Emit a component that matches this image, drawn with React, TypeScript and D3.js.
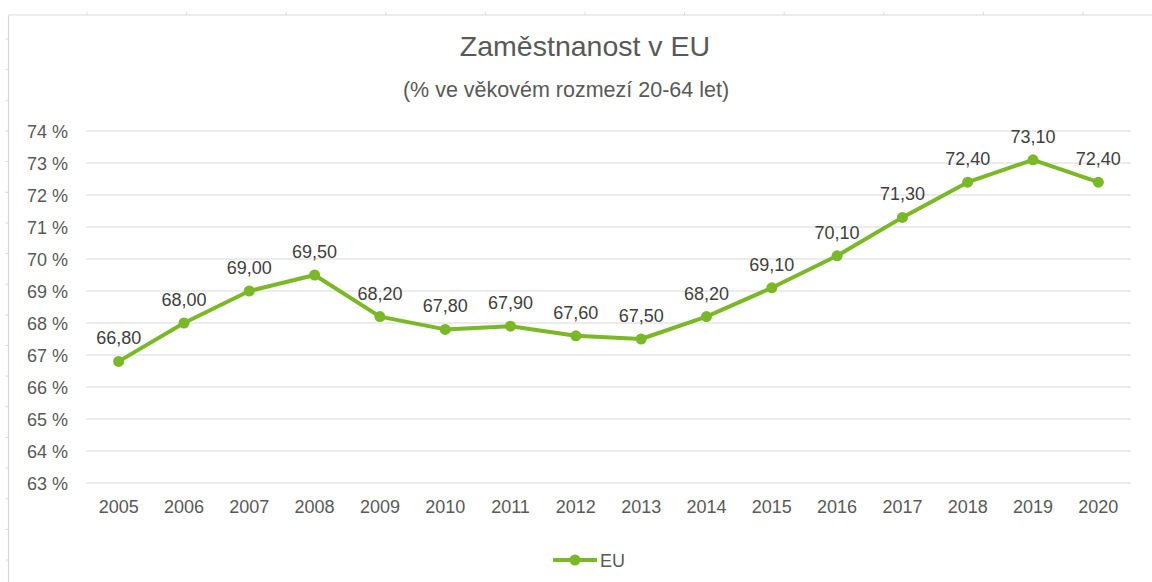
import React from "react";
import * as d3 from "d3";

const years = ["2005","2006","2007","2008","2009","2010","2011","2012","2013","2014","2015","2016","2017","2018","2019","2020"];
const euValues = [66.8, 68.0, 69.0, 69.5, 68.2, 67.8, 67.9, 67.6, 67.5, 68.2, 69.1, 70.1, 71.3, 72.4, 73.1, 72.4];
const yTicks = [63, 64, 65, 66, 67, 68, 69, 70, 71, 72, 73, 74];
const title = "Zaměstnanost v EU";
const subtitle = "(% ve věkovém rozmezí 20-64 let)";
const seriesName = "EU";

const W = 1152, H = 582;
const GREEN = "#7AB828";
const TEXT = "#595959";
const GRID = "#d9d9d9";
const FONT = "'Liberation Sans', Arial, Helvetica, sans-serif";

export default function App() {
  const x = d3.scaleBand<string>().domain(years).range([86, 1131]);
  const y = d3.scaleLinear().domain([63, 74]).range([483, 131]);
  const cx = (yr: string) => (x(yr) as number) + x.bandwidth() / 2;
  const line = d3.line<number>().x((_, i) => cx(years[i])).y((v) => y(v));
  const fmt = (v: number) => v.toFixed(2).replace(".", ",");

  const topTicks = d3.range(0, 11).map((i) => 87 + i * 99.6);
  const leftTicks = d3.range(0, 18).map((i) => 39 + i * 30.65);

  return (
    <div style={{ position: "fixed", left: 0, top: 0, width: W, height: H, background: "#fff" }}>
      <svg width={W} height={H} style={{ display: "block" }} fontFamily={FONT}>
        <rect x={0} y={0} width={W} height={H} fill="#fff" />
        {/* frame */}
        <line x1={8.5} x2={W} y1={15} y2={15} stroke={GRID} strokeWidth={1.2} />
        <line x1={8.5} x2={8.5} y1={15} y2={H} stroke={GRID} strokeWidth={1.2} />
        {topTicks.map((t, i) => (
          <line key={"tt" + i} x1={t} x2={t} y1={12} y2={15} stroke={GRID} strokeWidth={1} />
        ))}
        {leftTicks.map((t, i) => (
          <line key={"lt" + i} x1={5.5} x2={8.5} y1={t} y2={t} stroke={GRID} strokeWidth={1} />
        ))}

        <text x={585} y={56} textAnchor="middle" fontSize={28.5} fill={TEXT}>{title}</text>
        <text x={566} y={97} textAnchor="middle" fontSize={21.5} fill={TEXT}>{subtitle}</text>

        {yTicks.map((t) => (
          <g key={t}>
            <line x1={86} x2={1131} y1={y(t)} y2={y(t)} stroke={GRID} strokeWidth={1} />
            <text x={68} y={y(t) + 6.5} textAnchor="end" fontSize={18} fill={TEXT}>{t} %</text>
          </g>
        ))}

        {years.map((yr) => (
          <text key={yr} x={cx(yr)} y={513} textAnchor="middle" fontSize={18} fill={TEXT}>{yr}</text>
        ))}

        <path d={line(euValues) || ""} fill="none" stroke={GREEN} strokeWidth={4} strokeLinejoin="round" />
        {euValues.map((v, i) => (
          <circle key={i} cx={cx(years[i])} cy={y(v)} r={5.5} fill={GREEN} />
        ))}
        {euValues.map((v, i) => (
          <text key={"l" + i} x={cx(years[i])} y={y(v) - 17} textAnchor="middle" fontSize={18} fill="#404040">{fmt(v)}</text>
        ))}

        <g>
          <line x1={553} x2={597} y1={560} y2={560} stroke={GREEN} strokeWidth={4} />
          <circle cx={575} cy={560} r={5.5} fill={GREEN} />
          <text x={600} y={566.5} fontSize={18} fill={TEXT}>{seriesName}</text>
        </g>
      </svg>
    </div>
  );
}
